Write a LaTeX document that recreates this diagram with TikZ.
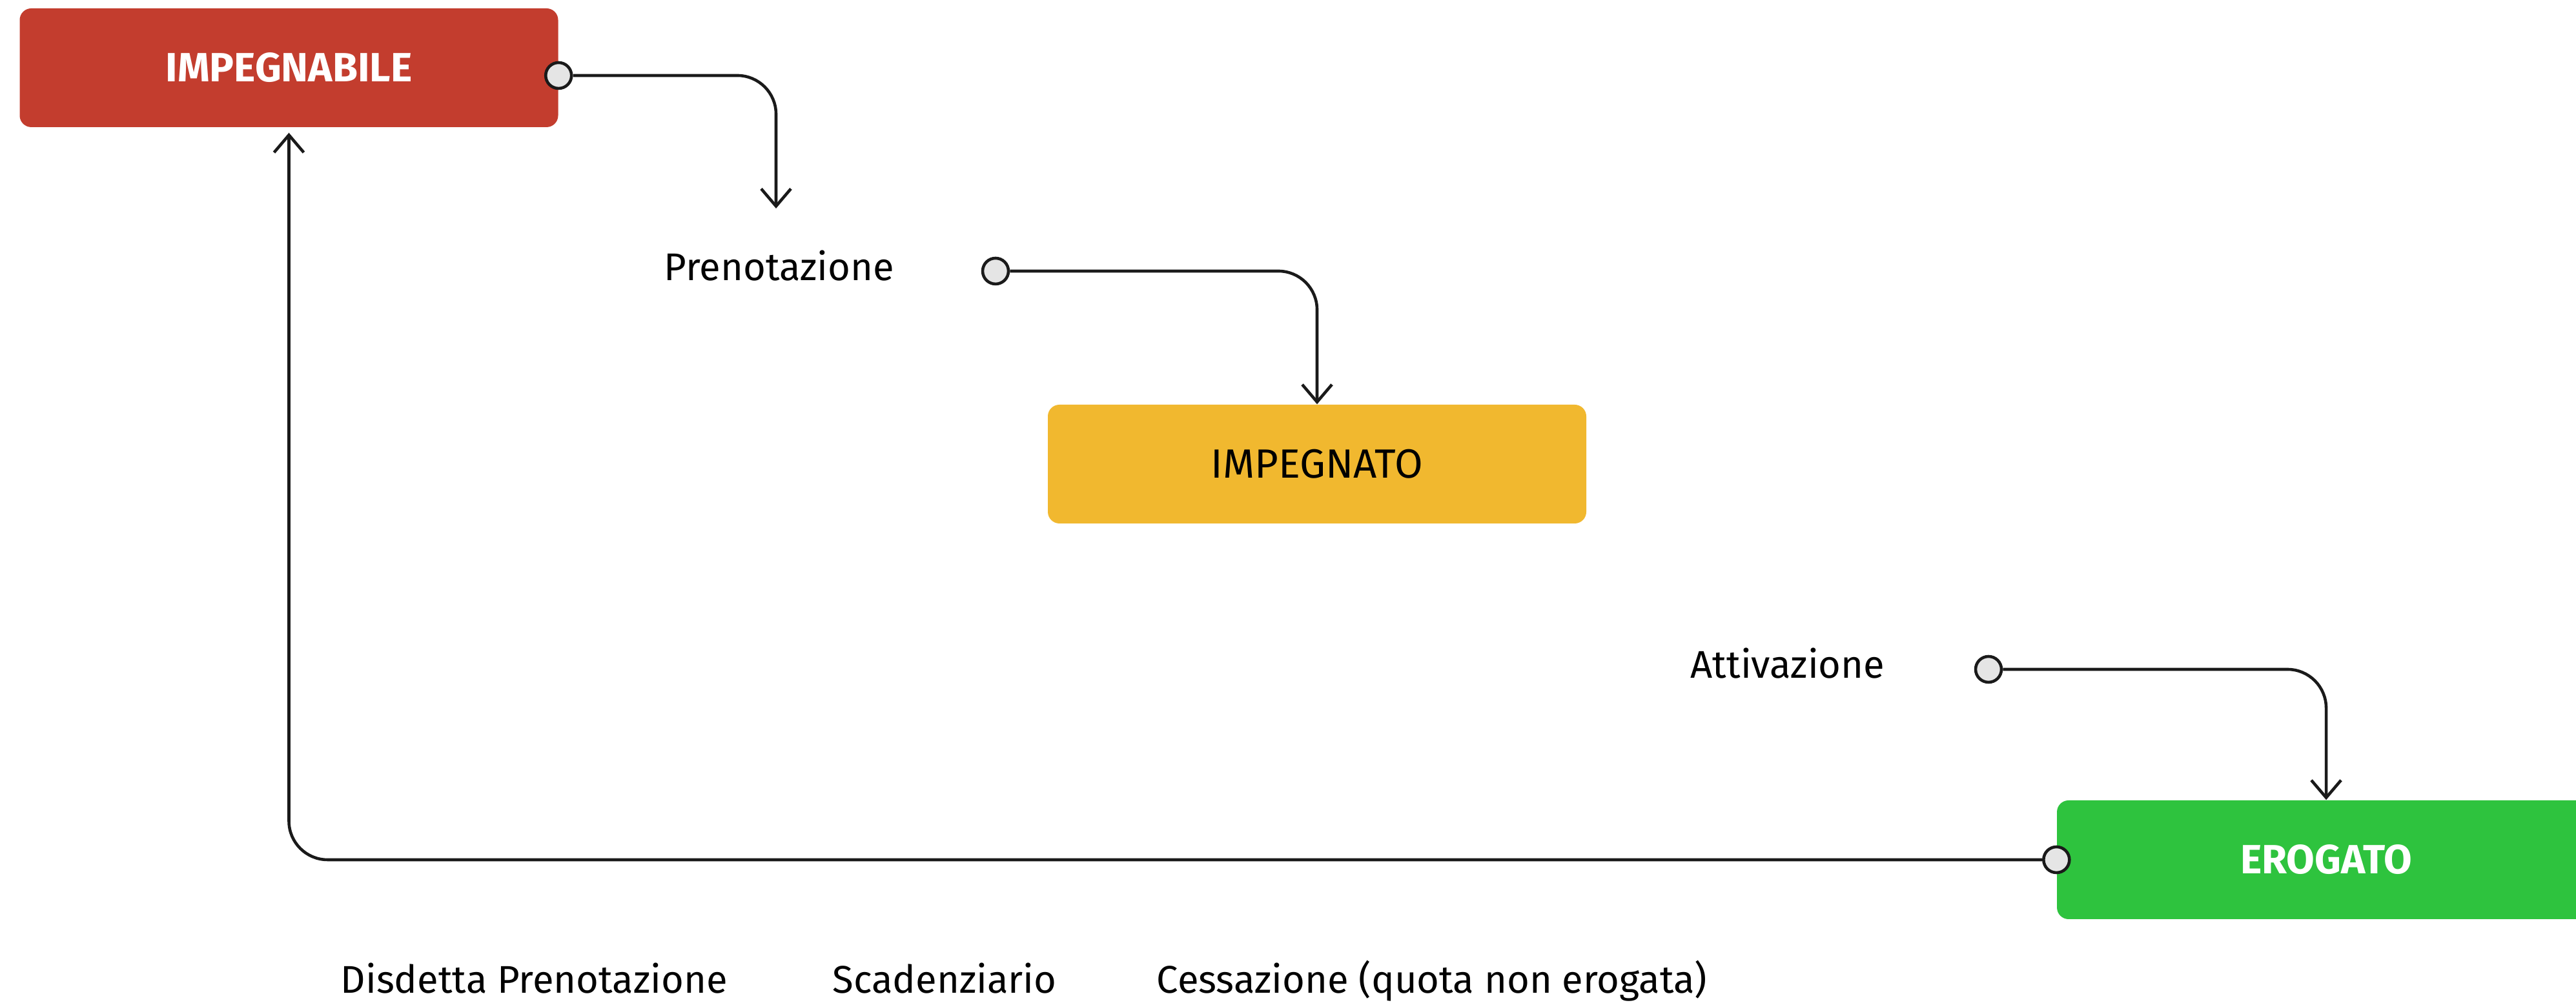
\documentclass[tikz,border=0pt]{standalone}
\usepackage{fontspec}
\setmainfont{Fira Sans}
\usetikzlibrary{arrows, arrows.meta}

\definecolor{statored}{RGB}{195,61,46}
\definecolor{statoyellow}{RGB}{241,184,47}
\definecolor{statogreen}{RGB}{46,195,62}
\definecolor{portagray}{RGB}{229,229,229}
\definecolor{lineablack}{RGB}{26,26,26}

\tikzset{
  stato/.style={rectangle, rounded corners=0.18cm, minimum width=8.34cm,
    minimum height=1.84cm, inner sep=0pt, font=\fontsize{18}{20}\selectfont},
  evento/.style={inner sep=0pt, font=\fontsize{17}{20}\selectfont},
  porta/.style={circle, draw=lineablack, fill=portagray, line width=1.3pt,
    minimum size=0.4cm, inner sep=0pt},
  flusso/.style={draw=lineablack, line width=1.3pt, rounded corners=0.6cm,
    -{Straight Barb[length=0.27cm,width=0.46cm]}},
}

\begin{document}
\begin{tikzpicture}
\useasboundingbox (0,0) rectangle (39.9,15.57);

% stati
\node[stato, fill=statored, text=white] (impegnabile) at (4.475,14.52) {\bfseries IMPEGNABILE};
\node[stato, fill=statoyellow] (impegnato) at (20.40,8.38) {IMPEGNATO};
\node[stato, fill=statogreen, text=white] (erogato) at (36.03,2.25) {\bfseries EROGATO};

% eventi
\node[evento, anchor=west] (prenotazione) at (10.28,11.45) {Prenotazione};
\node[evento, anchor=west] (attivazione) at (26.18,5.29) {Attivazione};
\node[evento, anchor=base west] (disdetta) at (5.27,0.18) {Disdetta Prenotazione};
\node[evento, anchor=base west] (scadenziario) at (12.89,0.18) {Scadenziario};
\node[evento, anchor=base west] (cessazione) at (17.91,0.18) {Cessazione (quota non erogata)};

\node[porta] (p1) at ([yshift=-0.12cm]impegnabile.east) {};
\node[porta] (p2) at (15.42,11.37) {};
\node[porta] (p3) at (30.80,5.20) {};
\node[porta] (p4) at (erogato.west) {};

\coordinate (prenotazione in) at (12.02,12.34);

\draw[flusso] (p1) -| (prenotazione in);
\draw[flusso] (p2) -| (impegnato);
\draw[flusso] (p3) -| (erogato);
\draw[flusso, shorten >=0.08cm] (p4) -| (impegnabile);
\end{tikzpicture}
\end{document}
